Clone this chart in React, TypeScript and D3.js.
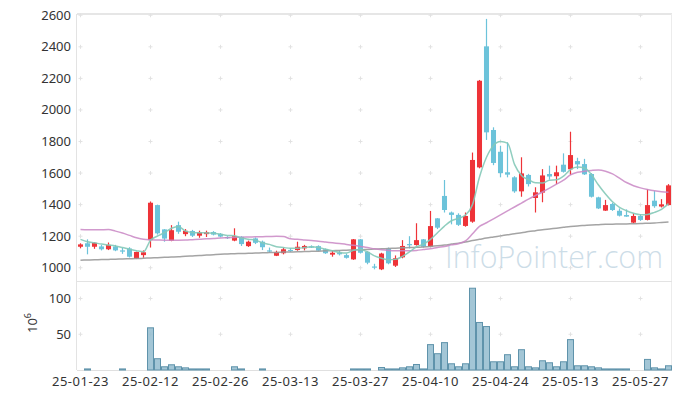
import React from 'react';
import * as d3 from 'd3';

// trading days shown on the chart
const dates = [
  "25-01-23", "25-01-24", "25-01-31",
  "25-02-03", "25-02-04", "25-02-05", "25-02-06", "25-02-07", "25-02-10", "25-02-11", "25-02-12", "25-02-13", "25-02-14",
  "25-02-17", "25-02-18", "25-02-19", "25-02-20", "25-02-21", "25-02-24", "25-02-25", "25-02-26", "25-02-27", "25-02-28",
  "25-03-04", "25-03-05", "25-03-06", "25-03-07", "25-03-10", "25-03-11", "25-03-12", "25-03-13", "25-03-14", "25-03-17",
  "25-03-18", "25-03-19", "25-03-20", "25-03-21", "25-03-24", "25-03-25", "25-03-26", "25-03-27", "25-03-28", "25-03-31",
  "25-04-01", "25-04-02", "25-04-03", "25-04-04", "25-04-07", "25-04-08", "25-04-09", "25-04-10", "25-04-11", "25-04-14",
  "25-04-15", "25-04-16", "25-04-17", "25-04-18", "25-04-21", "25-04-22", "25-04-23", "25-04-24", "25-04-25", "25-04-28",
  "25-04-29", "25-04-30", "25-05-02", "25-05-07", "25-05-08", "25-05-09", "25-05-12", "25-05-13", "25-05-14", "25-05-15",
  "25-05-16", "25-05-19", "25-05-20", "25-05-21", "25-05-22", "25-05-23", "25-05-26", "25-05-27", "25-05-28", "25-05-29",
  "25-05-30", "25-06-02",
];

const opens = [
  1133, 1155, 1133, 1135, 1117, 1135, 1110, 1122, 1057, 1080, 1175, 1397, 1243, 1171, 1270, 1213, 1233, 1203, 1213, 1226,
  1215, 1195, 1172, 1196, 1137, 1186, 1165, 1110, 1076, 1092, 1113, 1112, 1123, 1135, 1137, 1117, 1083, 1093, 1080, 1053,
  1180, 1101, 1008, 990, 1122, 1013, 1066, 1150, 1144, 1180, 1133, 1313, 1455, 1350, 1335, 1265, 1292, 1636, 2403, 1873,
  1735, 1605, 1573, 1484, 1588, 1442, 1476, 1594, 1580, 1653, 1624, 1676, 1657, 1594, 1446, 1362, 1404, 1361, 1334, 1286,
  1328, 1303, 1425, 1388, 1397,
];
const highs = [
  1155, 1180, 1162, 1145, 1160, 1145, 1125, 1130, 1102, 1110, 1420, 1400, 1245, 1270, 1292, 1245, 1240, 1235, 1235, 1232,
  1220, 1200, 1250, 1200, 1172, 1192, 1172, 1128, 1108, 1128, 1125, 1165, 1145, 1142, 1142, 1122, 1112, 1110, 1090, 1182,
  1182, 1105, 1025, 1095, 1128, 1078, 1175, 1200, 1282, 1182, 1360, 1315, 1556, 1356, 1345, 1350, 1730, 2190, 2577, 1890,
  1773, 1795, 1580, 1700, 1595, 1510, 1625, 1647, 1647, 1725, 1862, 1697, 1690, 1600, 1450, 1430, 1412, 1376, 1370, 1345,
  1340, 1497, 1486, 1435, 1530,
];
const lows = [
  1123, 1085, 1120, 1110, 1112, 1105, 1088, 1065, 1055, 1063, 1128, 1210, 1165, 1168, 1215, 1200, 1195, 1190, 1195, 1205,
  1195, 1182, 1168, 1138, 1132, 1150, 1112, 1095, 1074, 1085, 1100, 1108, 1110, 1125, 1105, 1088, 1070, 1078, 1058, 1050,
  1090, 1022, 990, 985, 1022, 1005, 1060, 1122, 1140, 1128, 1130, 1245, 1350, 1275, 1265, 1260, 1285, 1630, 1810, 1650,
  1573, 1573, 1475, 1450, 1515, 1350, 1415, 1558, 1530, 1603, 1588, 1625, 1588, 1445, 1372, 1360, 1360, 1325, 1323, 1282,
  1297, 1300, 1380, 1382, 1395,
];
const closes = [
  1148, 1133, 1158, 1117, 1145, 1110, 1102, 1070, 1100, 1098, 1412, 1218, 1185, 1238, 1228, 1234, 1203, 1225, 1225, 1210,
  1198, 1188, 1200, 1150, 1165, 1158, 1130, 1105, 1100, 1117, 1110, 1133, 1138, 1130, 1108, 1092, 1095, 1089, 1063, 1180,
  1095, 1032, 1003, 1090, 1028, 1060, 1138, 1145, 1175, 1133, 1264, 1254, 1366, 1335, 1272, 1328, 1683, 2185, 1858, 1664,
  1600, 1590, 1484, 1598, 1530, 1478, 1585, 1578, 1605, 1608, 1714, 1655, 1592, 1450, 1376, 1397, 1366, 1330, 1324, 1328,
  1303, 1397, 1390, 1402, 1522,
];

// volume, millions of shares
const volumes = [
  0, 1.5, 0, 0, 0, 0, 1.5, 0, 0, 0, 59, 15.8, 4.5, 7.3, 4.5, 3, 1.5, 1.5, 1.5, 0,
  0, 0, 4.5, 1.5, 0, 0, 1.5, 0, 0, 0, 0, 0, 0, 0, 0, 0, 0, 0, 0, 1.5,
  1.5, 1.5, 0, 3.5, 1.5, 1.5, 3, 4.5, 7.7, 1.5, 35.5, 22.8, 38.3, 8.7, 4.5, 8.7, 114.4, 66.5, 60.8, 11.5,
  11.5, 21.4, 4.5, 28.4, 4.5, 3, 12.9, 10.1, 4.5, 11.5, 42.5, 5.9, 5.9, 4.5, 3, 1.5, 1.5, 1.5, 1.5, 0,
  0, 14.8, 3, 1.5, 5.9,
];

// moving averages as drawn
const ma5 = [
  1180, 1165, 1158, 1150, 1144, 1138, 1128, 1117, 1108, 1101, 1175, 1201, 1222, 1250, 1262, 1232, 1224, 1222, 1220, 1218,
  1212, 1205, 1203, 1188, 1180, 1175, 1158, 1148, 1133, 1128, 1123, 1123, 1128, 1133, 1128, 1117, 1108, 1097, 1093, 1110,
  1115, 1100, 1075, 1060, 1050, 1053, 1072, 1100, 1133, 1150, 1180, 1222, 1264, 1298, 1313, 1334, 1400, 1575, 1700, 1775,
  1800, 1790, 1655, 1585, 1558, 1538, 1537, 1555, 1557, 1580, 1622, 1638, 1632, 1590, 1524, 1467, 1418, 1383, 1361, 1345,
  1336, 1338, 1351, 1370, 1406,
];
const ma20 = [
  1243, 1241, 1240, 1241, 1242, 1232, 1220, 1205, 1190, 1180, 1177, 1176, 1175, 1175, 1175, 1176, 1178, 1180, 1183, 1185,
  1188, 1190, 1192, 1194, 1195, 1196, 1197, 1198, 1199, 1198, 1183, 1180, 1176, 1172, 1168, 1163, 1158, 1153, 1148, 1142,
  1135, 1128, 1120, 1114, 1110, 1108, 1108, 1108, 1110, 1115, 1120, 1128, 1135, 1145, 1152, 1170, 1215, 1262, 1285, 1310,
  1335, 1360, 1385, 1410, 1435, 1458, 1480, 1505, 1530, 1555, 1588, 1605, 1612, 1617, 1620, 1612, 1595, 1568, 1540, 1520,
  1506, 1496, 1488, 1482, 1478,
];
const ma60 = [
  1048, 1049, 1050, 1052, 1053, 1054, 1056, 1057, 1058, 1060, 1062, 1064, 1066, 1068, 1070, 1073, 1075, 1077, 1080, 1083,
  1086, 1087, 1089, 1090, 1092, 1093, 1095, 1096, 1097, 1099, 1100, 1101, 1103, 1104, 1105, 1107, 1108, 1110, 1111, 1113,
  1114, 1116, 1118, 1120, 1122, 1124, 1126, 1128, 1130, 1132, 1135, 1139, 1144, 1150, 1156, 1163, 1172, 1180, 1188, 1195,
  1202, 1209, 1216, 1222, 1229, 1235, 1241, 1246, 1251, 1256, 1261, 1265, 1268, 1271, 1273, 1275, 1276, 1277, 1278, 1279,
  1280, 1282, 1284, 1287, 1290,
];

const xTickLabels = ["25-01-23", "25-02-12", "25-02-26", "25-03-13", "25-03-27", "25-04-10", "25-04-24", "25-05-13", "25-05-27"];
const priceTicks = [1000, 1200, 1400, 1600, 1800, 2000, 2200, 2400, 2600];
const volumeTicks = [50, 100];

const width = 680;
const height = 399;
const left = 77;
const right = 672;
const priceTop = 14;
const priceBottom = 281;
const volBottom = 370;
const font = "'Noto Sans', 'DejaVu Sans', sans-serif";

const App: React.FC = () => {
  const x = d3.scaleBand<number>().domain(d3.range(dates.length)).range([left, right]);
  const cx = (i: number) => x(i)! + x.bandwidth() / 2;
  const y = d3.scaleLinear().domain([916, 2608]).range([priceBottom, priceTop]);
  const yv = d3.scaleLinear().domain([0, 124.5]).range([volBottom, priceBottom]);

  const maLine = d3.line<number>().x((_, i) => cx(i)).y(d => y(d)).curve(d3.curveMonotoneX);
  const bodyW = x.bandwidth() * 0.72;

  const tickIdx = xTickLabels.map(t => dates.indexOf(t));

  // little "+" markers at grid crossings
  const crosses: [number, number][] = [];
  tickIdx.forEach(i => {
    priceTicks.forEach(p => crosses.push([cx(i), y(p)]));
    volumeTicks.forEach(v => crosses.push([cx(i), yv(v)]));
  });

  return (
    <div style={{position: 'fixed', left: 0, top: 0}}>
      <svg width={width} height={height} style={{display: 'block', background: '#fff'}}>
        {/* frame */}
        <line x1={left} x2={right} y1={priceTop} y2={priceTop} stroke="#e6e6e6" strokeWidth={2}/>
        <line x1={left - 0.5} x2={left - 0.5} y1={priceTop} y2={volBottom} stroke="#e3e3e3"/>
        <line x1={right - 0.5} x2={right - 0.5} y1={priceTop} y2={volBottom} stroke="#ececec"/>
        <line x1={left} x2={right} y1={priceBottom + 0.5} y2={priceBottom + 0.5} stroke="#e3e3e3"/>
        <line x1={left} x2={right} y1={volBottom + 0.5} y2={volBottom + 0.5} stroke="#e0e0e0"/>

        {crosses.map(([px, py], k) => (
          <g key={k} stroke="#e2e2e2" strokeWidth={1}>
            <line x1={px - 2} x2={px + 2} y1={py} y2={py}/>
            <line x1={px} x2={px} y1={py - 2} y2={py + 2}/>
          </g>
        ))}

        {/* watermark */}
        <text x={445} y={268} fontFamily="'Open Sans', sans-serif" fontWeight={300} fontSize={31} fill="#bcd2df" fillOpacity={0.75}
              textLength={218} lengthAdjust="spacingAndGlyphs">InfoPointer.com</text>

        {/* candles */}
        {dates.map((d, i) => {
          const up = closes[i] >= opens[i];
          const color = up ? '#ee3338' : '#6cc3da';
          const top = y(Math.max(opens[i], closes[i]));
          const bot = y(Math.min(opens[i], closes[i]));
          return (
            <g key={d}>
              <line x1={cx(i)} x2={cx(i)} y1={y(highs[i])} y2={y(lows[i])} stroke={color} strokeWidth={1.2}/>
              <rect x={cx(i) - bodyW / 2} y={top} width={bodyW} height={Math.max(1.2, bot - top)} fill={color}/>
            </g>
          );
        })}

        {/* moving averages */}
        <path d={maLine(ma60)!} fill="none" stroke="#9a9a9a" strokeWidth={1.5} strokeOpacity={0.9}/>
        <path d={maLine(ma20)!} fill="none" stroke="#c987c4" strokeWidth={1.5} strokeOpacity={0.85}/>
        <path d={maLine(ma5)!} fill="none" stroke="#84c9b8" strokeWidth={1.5} strokeOpacity={0.9}/>

        {/* volume */}
        {volumes.map((v, i) => v > 0 ? (
          <rect key={i} x={x(i)! + 0.5} y={yv(v)} width={x.bandwidth() - 1} height={yv(0) - yv(v)}
                fill="#93bccf" fillOpacity={0.85} stroke="#5f93ab" strokeWidth={1}/>
        ) : null)}

        {/* y axis labels */}
        {priceTicks.map(p => (
          <text key={p} x={71} y={y(p)} dy="0.35em" textAnchor="end" fontFamily={font} fontSize={13} fill="#333">{p}</text>
        ))}
        {volumeTicks.map(v => (
          <text key={v} x={71} y={yv(v)} dy="0.35em" textAnchor="end" fontFamily={font} fontSize={13} fill="#333">{v}</text>
        ))}
        <text transform="translate(37,323) rotate(-90)" textAnchor="middle" fontFamily={font} fontSize={13} fill="#333">
          10<tspan fontSize={9} dy={-6}>6</tspan>
        </text>

        {/* x axis labels */}
        {tickIdx.map((i, k) => (
          <text key={k} x={cx(i)} y={386} textAnchor="middle" fontFamily={font} fontSize={13} letterSpacing={0.5}
                fill="#333">{xTickLabels[k]}</text>
        ))}
      </svg>
    </div>
  );
};

export default App;
